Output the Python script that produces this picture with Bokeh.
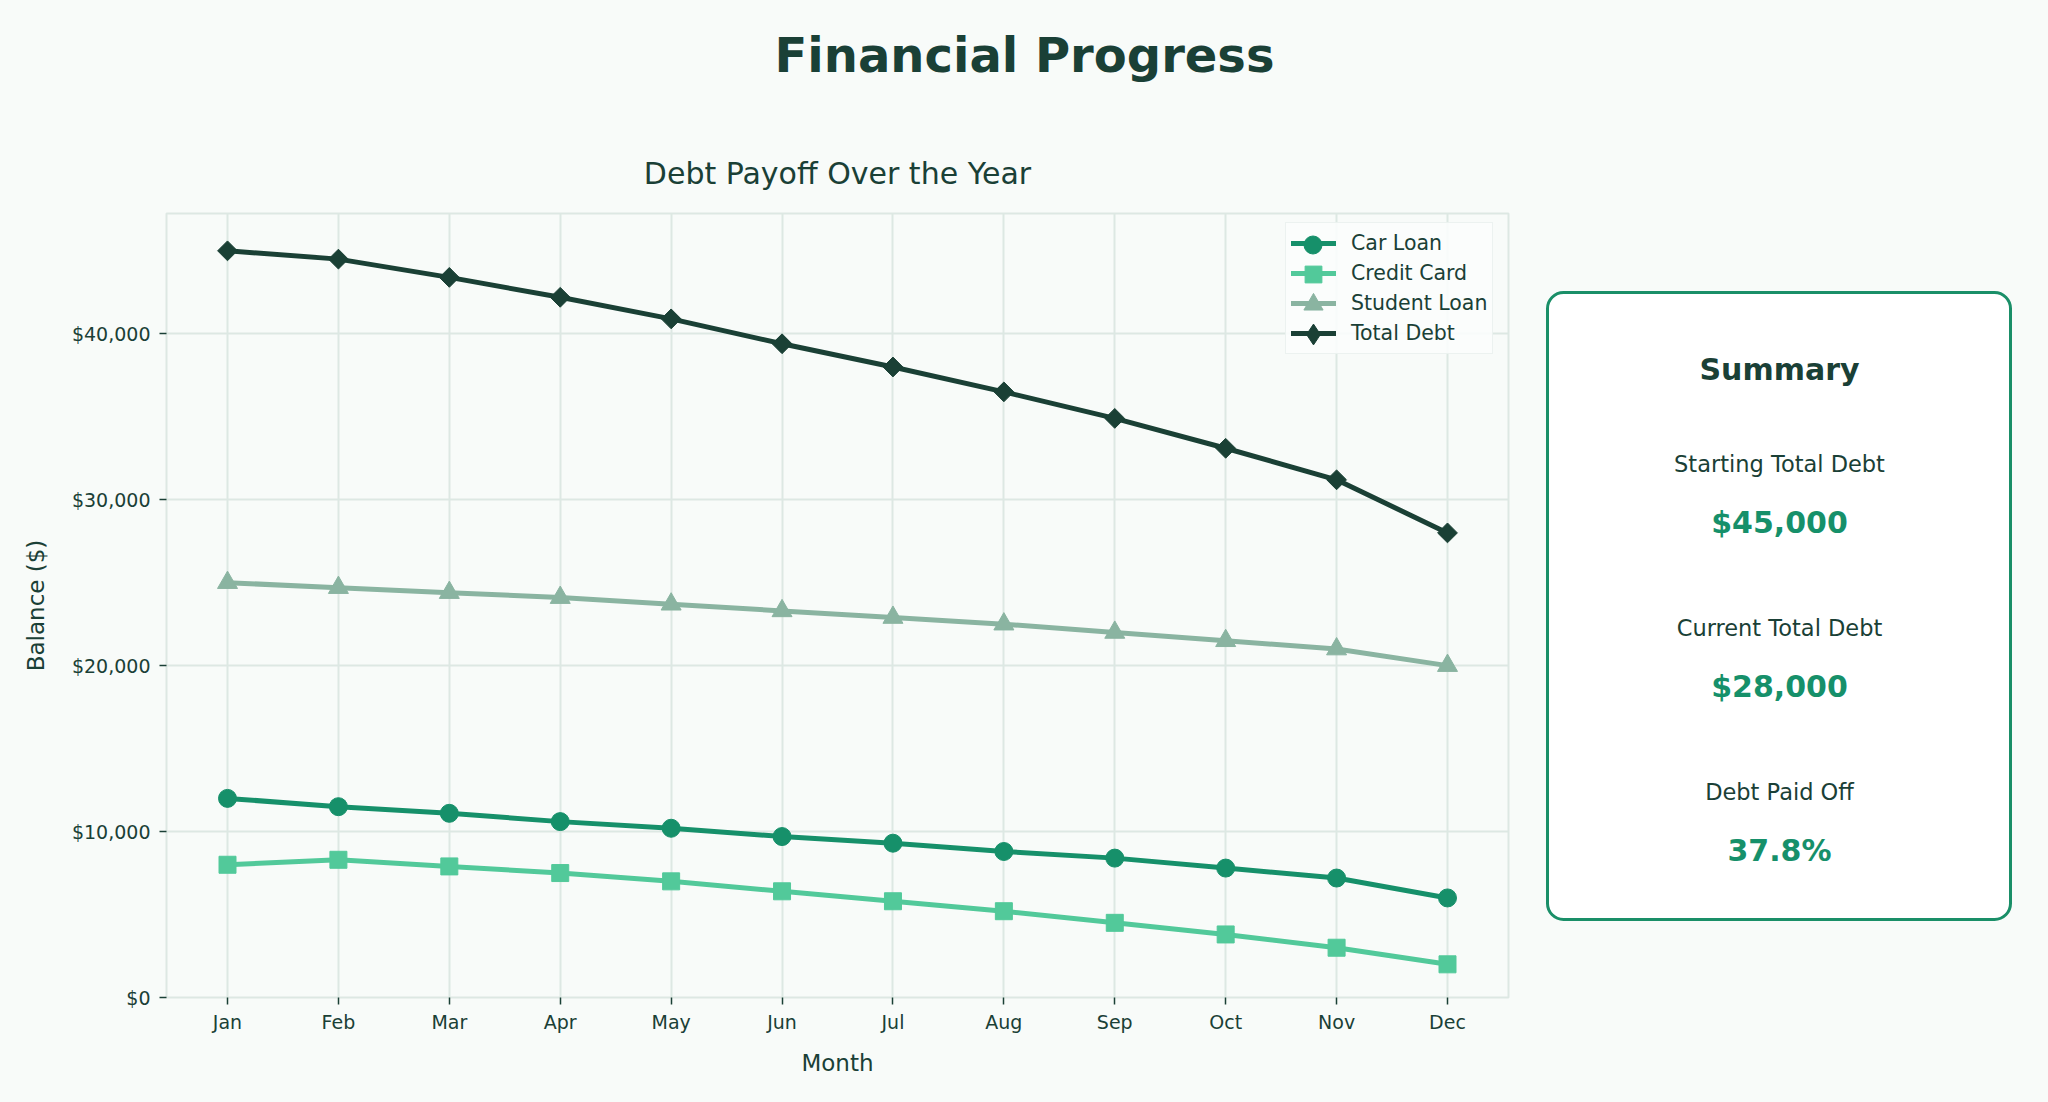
from bokeh.plotting import figure
from bokeh.models import (Range1d, FixedTicker, NumeralTickFormatter, Legend, LegendItem)
from bokeh.layouts import column, row
from bokeh.core.properties import value
from bokeh.embed import file_html
from bokeh.resources import INLINE

# ---------------- data ----------------
months = ["Jan", "Feb", "Mar", "Apr", "May", "Jun", "Jul", "Aug", "Sep", "Oct", "Nov", "Dec"]
car_loan = [12000, 11500, 11100, 10600, 10200, 9700, 9300, 8800, 8400, 7800, 7200, 6000]
credit_card = [8000, 8300, 7900, 7500, 7000, 6400, 5800, 5200, 4500, 3800, 3000, 2000]
student_loan = [25000, 24700, 24400, 24100, 23700, 23300, 22900, 22500, 22000, 21500, 21000, 20000]
total_debt = [45000, 44500, 43400, 42200, 40900, 39400, 38000, 36500, 34900, 33100, 31200, 28000]
y_ticks = [0, 10000, 20000, 30000, 40000]

# ---------------- style ----------------
FONT = "DejaVu Sans"
BG = "#f8fbf9"
TEXT = "#1a4036"
GRID = "#dde8e3"
CAR = "#16906a"
CREDIT = "#52c99a"
STUDENT = "#8ab4a1"
TOTAL = "#1a4035"
ACCENT = "#16906a"

TOTAL_W = 2048
TOP_H = 128
MAIN_W = 1528
BOTTOM_H = 974
SUM_W = TOTAL_W - MAIN_W
BORDER_TOP = 85
BORDER_BOTTOM = 105
BORDER_LEFT = 166


def blank(width, height, top=0, bottom=0):
    f = figure(width=width, height=height, output_backend="svg", toolbar_location=None,
               title=None,
               x_range=Range1d(0, width), y_range=Range1d(height - bottom, top),
               x_axis_location=None, y_axis_location=None,
               min_border=0, min_border_left=0, min_border_right=0,
               min_border_top=top, min_border_bottom=bottom)
    f.grid.visible = False
    f.outline_line_color = None
    f.background_fill_color = BG
    f.border_fill_color = BG
    return f


# ---------------- top title ----------------
top = blank(TOTAL_W, TOP_H)
top.text(x=[TOTAL_W / 2], y=[54], text=["Financial Progress"],
         text_font=value(FONT), text_font_size="48px", text_font_style="bold",
         text_color=TEXT, text_align="center", text_baseline="alphabetic")

# ---------------- main chart ----------------
x = list(range(len(months)))
p = figure(width=MAIN_W, height=BOTTOM_H, output_backend="svg", toolbar_location=None,
           x_range=Range1d(-0.55, len(months) - 1 + 0.55), y_range=Range1d(0, 47250),
           min_border_left=BORDER_LEFT, min_border_right=20,
           min_border_top=BORDER_TOP, min_border_bottom=BORDER_BOTTOM,
           title="Debt Payoff Over the Year")
p.background_fill_color = BG
p.border_fill_color = BG
p.outline_line_color = GRID
p.outline_line_width = 2

p.title.text_font = FONT
p.title.text_font_size = "30px"
p.title.text_font_style = "normal"
p.title.text_color = TEXT
p.title.align = "center"
p.title.standoff = 46

p.xaxis.ticker = FixedTicker(ticks=x)
p.xaxis.major_label_overrides = {i: m for i, m in enumerate(months)}
p.yaxis.ticker = FixedTicker(ticks=y_ticks)
p.yaxis.formatter = NumeralTickFormatter(format="$0,0")

for ax in (p.xaxis[0], p.yaxis[0]):
    ax.axis_line_color = None
    ax.major_tick_in = 0
    ax.major_tick_out = 7
    ax.major_tick_line_color = TEXT
    ax.major_tick_line_width = 1.5
    ax.minor_tick_line_color = None
    ax.major_label_text_font = FONT
    ax.major_label_text_font_size = "19px"
    ax.major_label_text_color = TEXT
    ax.axis_label_text_font = FONT
    ax.axis_label_text_font_size = "23px"
    ax.axis_label_text_font_style = "normal"
    ax.axis_label_text_color = TEXT
p.xaxis.axis_label = "Month"
p.yaxis.axis_label = "Balance ($)"
p.xaxis.major_label_standoff = 6
p.yaxis.major_label_standoff = 9
p.xaxis.axis_label_standoff = 14
p.yaxis.axis_label_standoff = 20

p.grid.grid_line_color = GRID
p.grid.grid_line_width = 2

LW = 5
# label, values, colour, marker, size, angle, legend marker, legend glyph box
series = [
    ("Car Loan", car_loan, CAR, "circle", 18, 0.0, "circle", 45),
    ("Credit Card", credit_card, CREDIT, "square", 17, 0.0, "square", 42),
    ("Student Loan", student_loan, STUDENT, "triangle", 20, 0.0, "triangle", 48),
    ("Total Debt", total_debt, TOTAL, "square", 14, 0.785398, "diamond", 52),
]

# legend box geometry (screen px, relative to frame)
LEG_LEFT = 1119
LEG_BOTTOM = 643
LEG_PAD = 5
ROW_H = 30
GLYPH_W = 45

line_items = []
marker_legends = []
n = len(series)
for i, (label, vals, color, marker, size, angle, lmarker, lbox) in enumerate(series):
    lr = p.line(x, vals, line_color=color, line_width=LW, line_cap="round", line_join="round")
    leg_r = None
    if lmarker != marker:
        # small diamond hidden underneath the rotated square markers; used for the legend key
        leg_r = p.scatter(x, vals, marker=lmarker, size=12, fill_color=color, line_color=color)
    sr = p.scatter(x, vals, marker=marker, size=size, angle=angle,
                   fill_color=color, line_color=color)
    if leg_r is None:
        leg_r = sr
    line_items.append(LegendItem(label=label, renderers=[lr]))
    row_center_from_bottom = LEG_BOTTOM + LEG_PAD + (n - 1 - i) * ROW_H + ROW_H / 2
    ml = Legend(items=[LegendItem(label=" ", renderers=[leg_r])],
                location=(LEG_LEFT + LEG_PAD + GLYPH_W / 2 - lbox / 2,
                          row_center_from_bottom - lbox / 2))
    ml.margin = 0
    ml.padding = 0
    ml.spacing = 0
    ml.glyph_width = lbox
    ml.glyph_height = lbox
    ml.label_height = lbox
    ml.label_standoff = 0
    ml.label_text_font_size = "4px"
    ml.border_line_color = None
    ml.background_fill_alpha = 0
    marker_legends.append(ml)

legend = Legend(items=line_items, location=(LEG_LEFT, LEG_BOTTOM))
legend.margin = 0
legend.padding = LEG_PAD
legend.spacing = 0
legend.glyph_width = GLYPH_W
legend.glyph_height = ROW_H
legend.label_height = ROW_H
legend.label_standoff = 15
legend.label_text_font = FONT
legend.label_text_font_size = "20.5px"
legend.label_text_color = TEXT
legend.border_line_color = GRID
legend.border_line_width = 1.5
legend.background_fill_color = "#fbfdfc"
legend.background_fill_alpha = 0.9
p.add_layout(legend)
for ml in marker_legends:
    p.add_layout(ml)

# ---------------- summary panel ----------------
s = blank(SUM_W, BOTTOM_H, top=BORDER_TOP, bottom=BORDER_BOTTOM)
s.quad(left=[19], right=[482], top=[164], bottom=[791], fill_color="white",
       line_color="#1a8f68", line_width=3, border_radius=16)

start_val = total_debt[0]
curr_val = total_debt[-1]
paid_pct = (start_val - curr_val) / start_val * 100
cx = 251
s.text(x=[cx], y=[241], text=["Summary"], text_font=value(FONT), text_font_size="30px",
       text_font_style="bold", text_color=TEXT, text_align="center", text_baseline="alphabetic")
s.text(x=[cx, cx, cx], y=[335.5, 499.5, 663.5],
       text=["Starting Total Debt", "Current Total Debt", "Debt Paid Off"],
       text_font=value(FONT), text_font_size="22.5px", text_color=TEXT,
       text_align="center", text_baseline="alphabetic")
s.text(x=[cx, cx, cx], y=[394, 558, 722],
       text=[f"${start_val:,}", f"${curr_val:,}", f"{paid_pct:.1f}%"],
       text_font=value(FONT), text_font_size="30px", text_font_style="bold",
       text_color=ACCENT, text_align="center", text_baseline="alphabetic")

bottom_row = row(p, s, styles={"background-color": BG})
layout = column(top, bottom_row, styles={"background-color": BG})
open("out.html", "w").write(file_html(layout, INLINE))
